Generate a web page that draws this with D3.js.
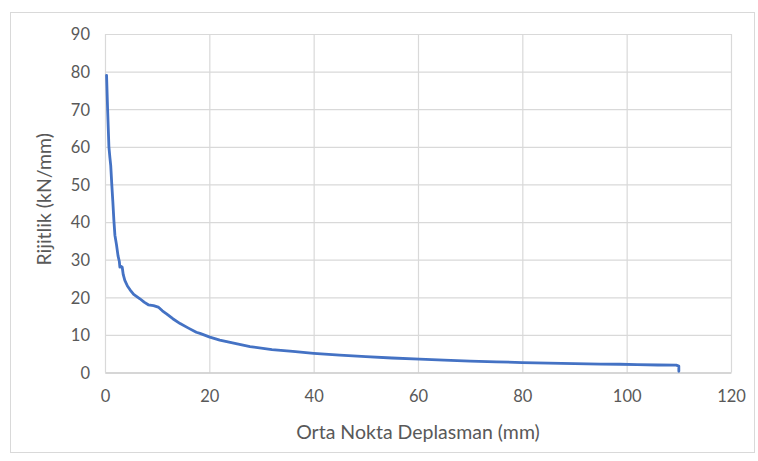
<!DOCTYPE html>
<html>
<head>
<meta charset="utf-8">
<script src="https://cdn.jsdelivr.net/npm/d3@7"></script>
<style>
  html, body { margin: 0; padding: 0; background: #fff; }
  svg { display: block; }
  text { font-family: Lato, "Open Sans", sans-serif; }
</style>
</head>
<body>
<svg id="chart" width="758" height="461"></svg>
<script>
// Mid-point displacement (mm) vs. stiffness (kN/mm)
const displacement = [0.3, 0.5, 0.75, 0.95, 1.1, 1.3, 1.5, 1.7, 1.9, 2.2, 2.5, 2.75, 2.85, 3.0, 3.3, 3.5, 3.8, 4.3, 4.8, 5.5, 6.7, 7.5, 8.3, 9.3, 10.2, 11.0, 11.8, 13.0, 14.4, 16.0, 17.5, 18.2, 20.1, 22.0, 24.0, 27.8, 32.0, 36.0, 40.0, 45.0, 50.0, 55.0, 60.3, 65.0, 70.0, 75.0, 80.0, 85.0, 90.0, 95.0, 98.7, 102.0, 106.0, 109.5, 110.0, 110.0];
const stiffness    = [79.0, 70.0, 60.0, 57.0, 55.0, 50.0, 45.5, 40.5, 36.5, 34.0, 31.0, 29.5, 28.0, 28.3, 28.0, 26.0, 24.5, 23.0, 22.0, 20.8, 19.6, 18.7, 18.0, 17.8, 17.4, 16.4, 15.6, 14.3, 13.0, 11.8, 10.7, 10.4, 9.4, 8.6, 8.0, 6.9, 6.1, 5.6, 5.1, 4.6, 4.2, 3.85, 3.55, 3.3, 3.05, 2.85, 2.65, 2.5, 2.35, 2.25, 2.2, 2.1, 2.0, 1.95, 1.7, 0.3];

const xTicks = [0, 20, 40, 60, 80, 100, 120];
const yTicks = [0, 10, 20, 30, 40, 50, 60, 70, 80, 90];

const xTitle = "Orta Nokta Deplasman (mm)";
const yTitle = "Rijitlik (kN/mm)";

const svg = d3.select("#chart");
const plot = { left: 105, right: 731, top: 34, bottom: 372.5 };

const x = d3.scaleLinear().domain([0, 120]).range([plot.left, plot.right]);
const y = d3.scaleLinear().domain([0, 90]).range([plot.bottom, plot.top]);

// chart frame
svg.append("rect")
  .attr("x", 10.5).attr("y", 12.5)
  .attr("width", 744).attr("height", 440)
  .attr("fill", "#fff")
  .attr("stroke", "#d9d9d9").attr("stroke-width", 1);

// horizontal grid
svg.append("g")
  .attr("transform", `translate(${plot.left},0)`)
  .call(d3.axisLeft(y).tickValues(yTicks).tickSize(-(plot.right - plot.left)).tickFormat(""))
  .call(g => g.select(".domain").remove())
  .call(g => g.selectAll("line").attr("stroke", "#d9d9d9").attr("stroke-width", 1.2));

// vertical grid
svg.append("g")
  .attr("transform", `translate(0,${plot.bottom})`)
  .call(d3.axisBottom(x).tickValues(xTicks).tickSize(-(plot.bottom - plot.top)).tickFormat(""))
  .call(g => g.select(".domain").remove())
  .call(g => g.selectAll("line").attr("stroke", "#d9d9d9").attr("stroke-width", 1.2));

// x axis baseline and labels
svg.append("g")
  .attr("transform", `translate(0,${plot.bottom})`)
  .call(d3.axisBottom(x).tickValues(xTicks).tickSize(0).tickPadding(18).tickFormat(d3.format("d")))
  .call(g => g.select(".domain").attr("stroke", "#bfbfbf").attr("stroke-width", 1.2))
  .call(g => g.selectAll("text").attr("fill", "#595959").attr("font-size", "16.5px"));

// y axis labels
svg.append("g")
  .attr("transform", `translate(${plot.left},0)`)
  .call(d3.axisLeft(y).tickValues(yTicks).tickSize(0).tickPadding(15).tickFormat(d3.format("d")))
  .call(g => g.select(".domain").remove())
  .call(g => g.selectAll("text").attr("fill", "#595959").attr("font-size", "16.5px").attr("dy", "0.35em"));

// stiffness curve
const pts = displacement.map((d, i) => [d, stiffness[i]]);
svg.append("path")
  .datum(pts)
  .attr("fill", "none")
  .attr("stroke", "#4472c4")
  .attr("stroke-width", 2.8)
  .attr("stroke-linejoin", "round")
  .attr("stroke-linecap", "round")
  .attr("d", d3.line().x(d => x(d[0])).y(d => y(d[1])));

// axis titles
svg.append("text")
  .attr("x", 418)
  .attr("y", 439)
  .attr("text-anchor", "middle")
  .attr("fill", "#595959")
  .attr("font-size", "19.5px")
  .text(xTitle);

svg.append("text")
  .attr("transform", `translate(51,${(plot.top + plot.bottom) / 2 - 4}) rotate(-90)`)
  .attr("text-anchor", "middle")
  .attr("fill", "#595959")
  .attr("font-size", "19.5px")
  .text(yTitle);
</script>
</body>
</html>
